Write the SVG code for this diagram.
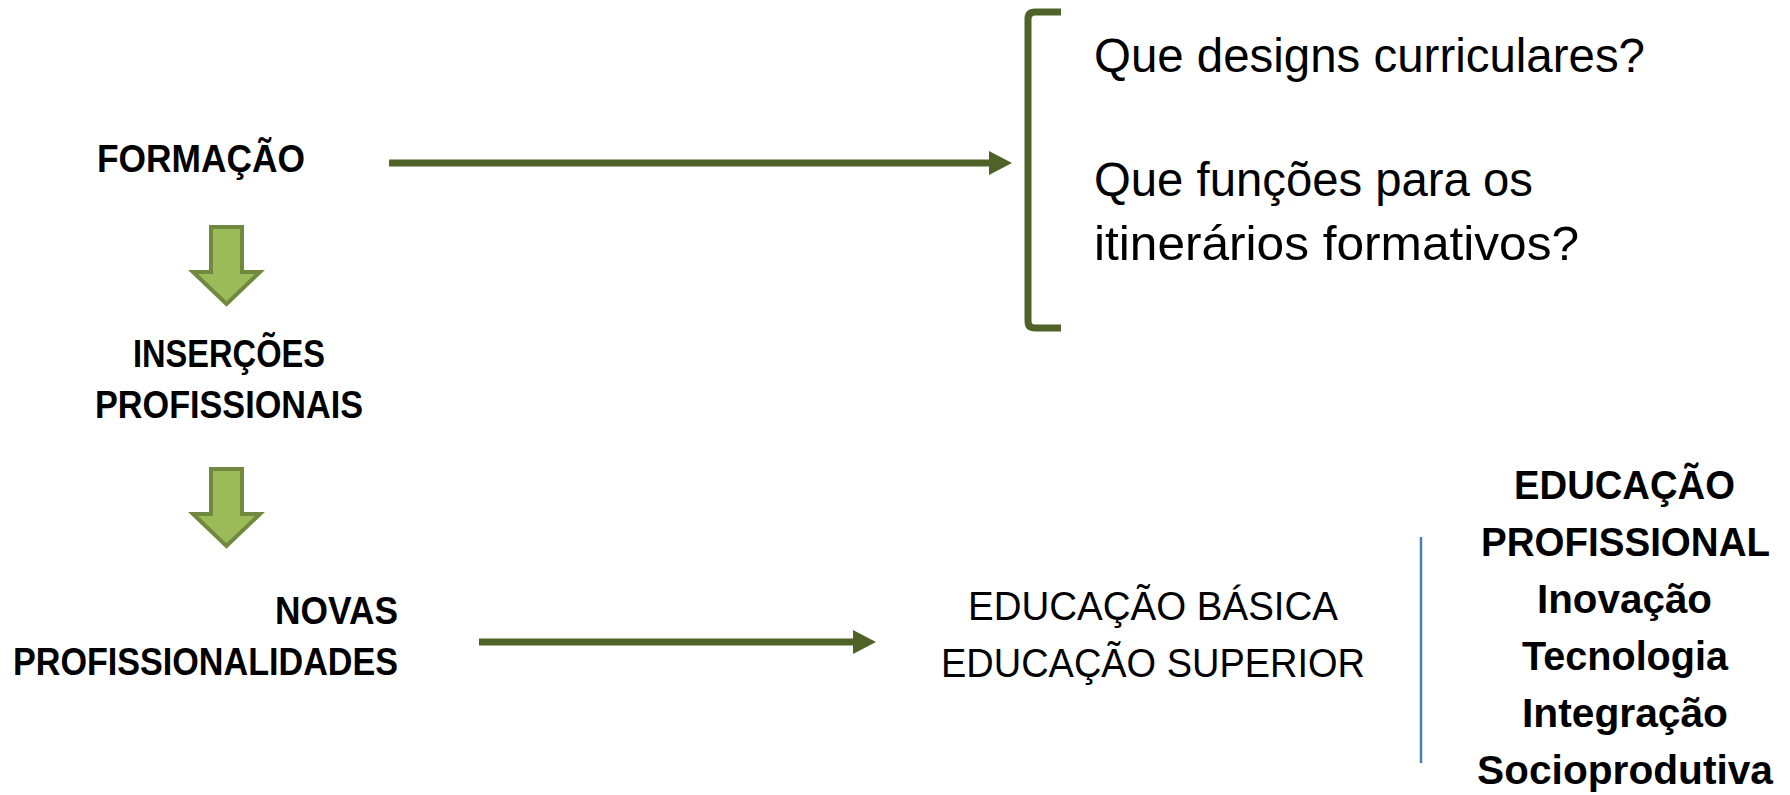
<svg xmlns="http://www.w3.org/2000/svg" width="1790" height="795" viewBox="0 0 1790 795">
<style>
.b{font-family:"Liberation Sans",Arial,sans-serif;font-weight:bold;fill:#000}
.r{font-family:"Liberation Sans",Arial,sans-serif;fill:#000}
.blk{fill:#9BBB59;stroke:#71893F;stroke-width:4;stroke-linejoin:miter}
.ln{stroke:#4F6228;stroke-width:7;fill:none}
</style>
<defs>
<marker id="ah" markerUnits="userSpaceOnUse" markerWidth="24" markerHeight="24" refX="0" refY="12" orient="auto">
<path d="M0,0 L23,12 L0,24 z" fill="#4F6228"/>
</marker>
</defs>
<rect width="1790" height="795" fill="#fff"/>
<g id="formacao"><text class="b" x="97" y="172" font-size="38" textLength="208" lengthAdjust="spacingAndGlyphs">FORMAÇÃO</text></g>
<g id="insercoes"><text class="b" x="133" y="367" font-size="38" textLength="192" lengthAdjust="spacingAndGlyphs">INSERÇÕES</text><text class="b" x="95" y="418" font-size="38" textLength="268" lengthAdjust="spacingAndGlyphs">PROFISSIONAIS</text></g>
<g id="novas"><text class="b" x="275" y="624" font-size="38" textLength="123" lengthAdjust="spacingAndGlyphs">NOVAS</text><text class="b" x="13" y="675" font-size="38" textLength="385" lengthAdjust="spacingAndGlyphs">PROFISSIONALIDADES</text></g>
<g id="perguntas"><text class="r" x="1094" y="72" font-size="48" textLength="551" lengthAdjust="spacingAndGlyphs">Que designs curriculares?</text><text class="r" x="1094" y="196" font-size="48" textLength="439" lengthAdjust="spacingAndGlyphs">Que funções para os</text><text class="r" x="1094" y="260" font-size="48" textLength="485" lengthAdjust="spacingAndGlyphs">itinerários formativos?</text></g>
<g id="educacao"><text class="r" x="968" y="620" font-size="41" textLength="370" lengthAdjust="spacingAndGlyphs">EDUCAÇÃO BÁSICA</text><text class="r" x="941" y="677" font-size="41" textLength="424" lengthAdjust="spacingAndGlyphs">EDUCAÇÃO SUPERIOR</text></g>
<g id="edprof"><text class="b" x="1514" y="499" font-size="40" textLength="221" lengthAdjust="spacingAndGlyphs">EDUCAÇÃO</text><text class="b" x="1481" y="556" font-size="40" textLength="289" lengthAdjust="spacingAndGlyphs">PROFISSIONAL</text><text class="b" x="1537" y="613" font-size="40" textLength="175" lengthAdjust="spacingAndGlyphs">Inovação</text><text class="b" x="1522" y="670" font-size="40" textLength="206" lengthAdjust="spacingAndGlyphs">Tecnologia</text><text class="b" x="1522" y="727" font-size="40" textLength="206" lengthAdjust="spacingAndGlyphs">Integração</text><text class="b" x="1477" y="784" font-size="40" textLength="296" lengthAdjust="spacingAndGlyphs">Socioprodutiva</text></g>
<g id="connectors">
<polygon class="blk" points="211,227 242,227 242,272 260,272 226.5,304 193,272 211,272"/>
<polygon class="blk" points="211,469 242,469 242,514 260,514 226.5,546 193,514 211,514"/>
<line class="ln" x1="389" y1="163" x2="989" y2="163" marker-end="url(#ah)"/>
<line class="ln" x1="479" y1="642" x2="853" y2="642" marker-end="url(#ah)"/>
<path class="ln" stroke-width="6.5" d="M1061,12 H1035 Q1028,12 1028,19 V321 Q1028,328 1035,328 H1061"/>
<line x1="1421" y1="537" x2="1421" y2="763" stroke="#4A7EBB" stroke-width="2.5"/>
</g>
</svg>
